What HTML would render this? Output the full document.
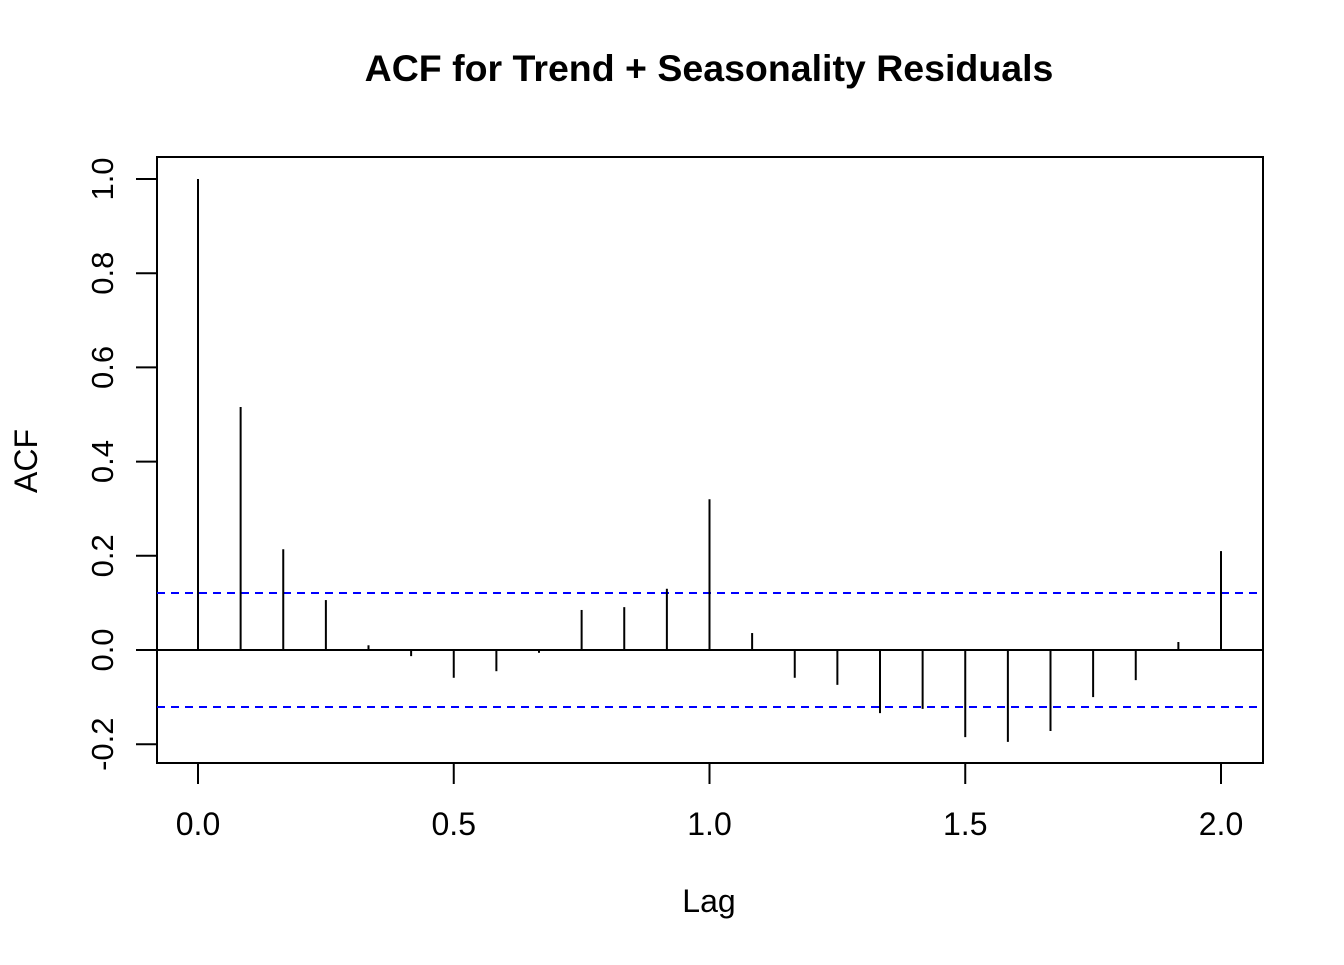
<!DOCTYPE html>
<html><head><meta charset="utf-8"><style>
html,body{margin:0;padding:0;background:#fff}
svg text{font-family:"Liberation Sans",Arial,sans-serif;fill:#000}
</style></head><body>
<svg id="chart" width="1344" height="960" xmlns="http://www.w3.org/2000/svg">
<text x="709" y="81" text-anchor="middle" font-size="37.5" font-weight="bold">ACF for Trend + Seasonality Residuals</text>
<text x="709" y="912" text-anchor="middle" font-size="32">Lag</text>
<text transform="translate(37,461) rotate(-90)" text-anchor="middle" font-size="32">ACF</text>
<rect x="157" y="157" width="1106" height="606" fill="none" stroke="#000" stroke-width="2"/>
<g id="marks"></g>
</svg>
<script>
const lags = [0,1,2,3,4,5,6,7,8,9,10,11,12,13,14,15,16,17,18,19,20,21,22,23,24];
const acfValues = [1.0,0.516,0.214,0.106,0.01,-0.013,-0.059,-0.045,-0.006,0.085,0.091,0.13,0.32,0.036,-0.059,-0.074,-0.134,-0.125,-0.185,-0.195,-0.172,-0.10,-0.064,0.017,0.21];
const ciBound = 0.121;
const xTicks = [0,0.5,1,1.5,2];
const xTickLabels = ["0.0","0.5","1.0","1.5","2.0"];
const yTicks = [-0.2,0,0.2,0.4,0.6,0.8,1.0];
const yTickLabels = ["-0.2","0.0","0.2","0.4","0.6","0.8","1.0"];
const freq = 12;

const X = v => 198 + v * 511.5;
const Y = v => 650 - v * 471;
const NS = "http://www.w3.org/2000/svg";
const g = document.getElementById('marks');
function mk(tag, attrs){const e=document.createElementNS(NS,tag);for(const k in attrs)e.setAttribute(k,attrs[k]);g.appendChild(e);return e;}

let z = mk('line',{x1:157,x2:1263,y1:Y(0),y2:Y(0),stroke:'#000','stroke-width':2});


[ciBound,-ciBound].forEach((c,i)=>{
  const l = mk('line',{x1:157,x2:1263,y1:Y(c),y2:Y(c),stroke:'#0000ff','stroke-width':2,'stroke-dasharray':'8,6'});
  
  
});
lags.forEach((k,i)=>{
  const x = X(k/freq);
  const b = mk('line',{x1:x,x2:x,y1:Y(0),y2:Y(acfValues[i]),stroke:'#000','stroke-width':2});
  
  
});
xTicks.forEach((v,i)=>{
  const t = mk('line',{x1:X(v),x2:X(v),y1:763,y2:784,stroke:'#000','stroke-width':2});
  
  
  const tx = mk('text',{x:X(v),y:835,'text-anchor':'middle','font-size':32});
  tx.textContent = xTickLabels[i];
  
  
});
yTicks.forEach((v,i)=>{
  const t = mk('line',{x1:136,x2:157,y1:Y(v),y2:Y(v),stroke:'#000','stroke-width':2});
  
  
  const tx = mk('text',{transform:`translate(113,${Y(v)}) rotate(-90)`,'text-anchor':'middle','font-size':31});
  tx.textContent = yTickLabels[i];
  
  
});
</script>
</body></html>
